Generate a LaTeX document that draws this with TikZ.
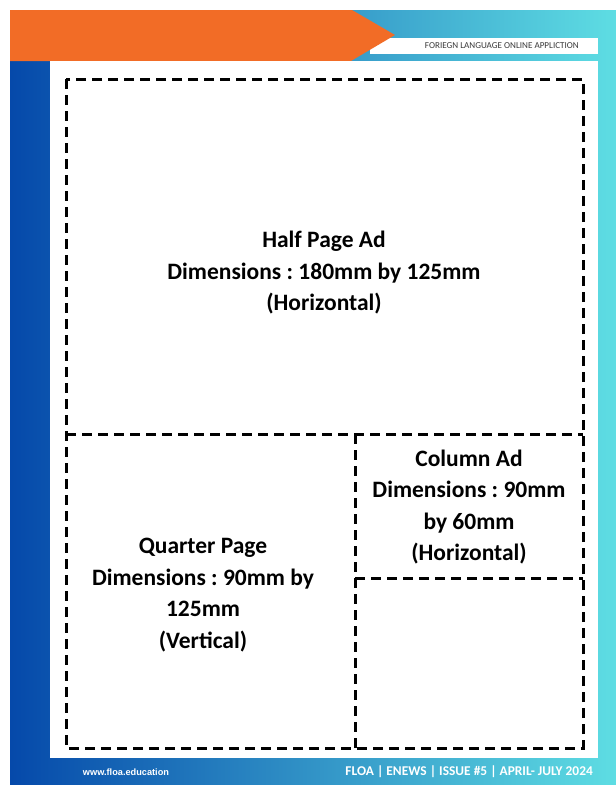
\documentclass[tikz,border=0pt]{standalone}
\usepackage{fontspec}
\setmainfont{Carlito}
\newfontfamily\webfont{Liberation Sans}
\usetikzlibrary{positioning}
\definecolor{floaorange}{HTML}{F26C26}
\definecolor{floablue}{HTML}{0549AA}
\definecolor{floacyan}{HTML}{5EDDE3}
\definecolor{headgray}{HTML}{3A3A3A}
\frenchspacing
\tikzset{
  adline/.style   = {black, line width=3pt, dash pattern=on 10pt off 6pt},
  adtext/.style   = {align=center, inner sep=0pt,
                     font=\fontsize{23.5}{31.5}\selectfont\bfseries},
  headtext/.style = {headgray, inner sep=0pt,
                     font=\fontsize{9.1}{11}\selectfont},
  foottext/.style = {white, inner sep=0pt,
                     font=\fontsize{13.4}{15}\selectfont\bfseries},
}

\begin{document}
\begin{tikzpicture}[x=1pt, y=-1pt]

    \useasboundingbox (0,0) rectangle (616,785);
    \fill[white] (0,0) rectangle (616,785);

    % Frame with blue to cyan gradient
    \shade[left color=floablue, right color=floacyan] (10,10) rectangle (616,784);

    % Header strip and orange banner
    \fill[white] (370,38) rectangle (598,54);
    \fill[floaorange] (10,10) -- (352,10) -- (395,35) -- (351,61) -- (10,61) -- cycle;
    \node[headtext, anchor=east] (tagline) at (579,46)
        {FORIEGN LANGUAGE ONLINE APPLICTION};

    % White page
    \fill[white] (50,61) rectangle (598,758);

    % Ad layout (dashed)
    \coordinate (nw) at (66,79);
    \coordinate (se) at (583,748);
    \coordinate (midL) at (66,434);
    \coordinate (midR) at (583,434);
    \coordinate (colT) at (355,434);
    \coordinate (colB) at (355,748);
    \coordinate (colL) at (355,578);
    \coordinate (colR) at (583,578);
    \draw[adline] (nw) rectangle (se);
    \draw[adline] (midL) -- (midR);
    \draw[adline] (colT) -- (colB);
    \draw[adline] (colL) -- (colR);

    % Ad labels
    \node[adtext] (half) at (324,273)
        {Half Page Ad\\Dimensions : 180mm by 125mm\\(Horizontal)};
    \node[adtext] (quarter) at (203,595)
        {Quarter Page\\Dimensions : 90mm by\\125mm\\(Vertical)};
    \node[adtext] (column) at (469,507)
        {Column Ad\\Dimensions : 90mm\\by 60mm\\(Horizontal)};

    % Footer
    \node[foottext, font=\webfont\bfseries\fontsize{9.2}{11}\selectfont]
        (web) at (126,772) {www.floa.education};
    \node[foottext, anchor=east] (issue) at (593,772)
        {FLOA | ENEWS | ISSUE \#5 | APRIL- JULY 2024};

\end{tikzpicture}
\end{document}
